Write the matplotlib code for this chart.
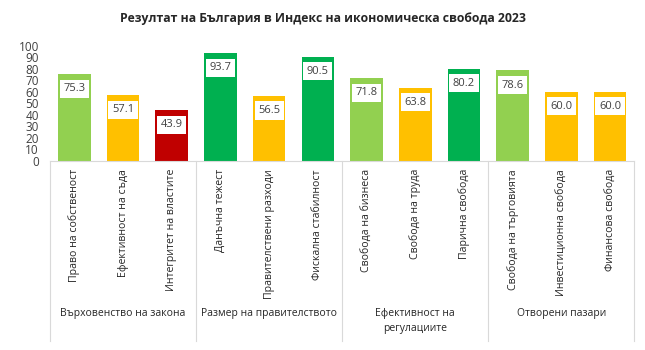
import matplotlib
matplotlib.use("Agg")
import matplotlib.pyplot as plt
from matplotlib.transforms import blended_transform_factory

plt.rcParams['font.family'] = ['Open Sans', 'DejaVu Sans']

title = "Резултат на България в Индекс на икономическа свобода 2023"
categories = ["Право на собственост", "Ефективност на съда", "Интегритет на властите",
              "Данъчна тежест", "Правителствени разходи", "Фискална стабилност",
              "Свобода на бизнеса", "Свобода на труда", "Парична свобода",
              "Свобода на търговията", "Инвестиционна свобода", "Финансова свобода"]
values = [75.3, 57.1, 43.9, 93.7, 56.5, 90.5, 71.8, 63.8, 80.2, 78.6, 60.0, 60.0]
colors = ["#92D050", "#FFC000", "#C00000", "#00B050", "#FFC000", "#00B050",
          "#92D050", "#FFC000", "#00B050", "#92D050", "#FFC000", "#FFC000"]
groups = ["Върховенство на закона", "Размер на правителството",
          "Ефективност на\nрегулациите", "Отворени пазари"]
yticks = [0, 10, 20, 30, 40, 50, 60, 70, 80, 90, 100]

fig = plt.figure(figsize=(6.45, 3.5), dpi=100)
ax = fig.add_axes([0.0775, 0.54, 0.906, 0.329])
x = list(range(len(values)))
ax.bar(x, values, width=0.67, color=colors, zorder=2)
ax.set_xlim(-0.5, len(values) - 0.5)
ax.set_ylim(0, 100)
ax.set_yticks(yticks)
ax.tick_params(axis='y', length=0, labelsize=8.5, pad=8, colors='#404040')
ax.set_xticks([])
for s in ['top', 'right', 'left']:
    ax.spines[s].set_visible(False)
ax.spines['bottom'].set_color('#D9D9D9')

for xi, v in zip(x, values):
    ax.annotate(f"{v:.1f}", (xi, v), xytext=(0, -6.5), textcoords='offset points',
                ha='center', va='top', fontsize=8, color='#404040',
                bbox=dict(boxstyle='square,pad=0.32', fc='white', ec='none'), zorder=3)

trans = blended_transform_factory(ax.transData, ax.transAxes)
for xi, c in zip(x, categories):
    ax.text(xi, -0.07, c, rotation=90, ha='center', va='top', fontsize=7.6,
            color='#262626', transform=trans, clip_on=False)

for b in [-0.5, 2.5, 5.5, 8.5, 11.5]:
    ax.plot([b, b], [0, -1.56], color='#D9D9D9', lw=0.8, transform=trans, clip_on=False)

for gi, g in enumerate(groups):
    cx = gi * 3 + 1
    ax.text(cx, -1.28, g, ha='center', va='top', fontsize=7.5, color='#262626',
            transform=trans, clip_on=False, linespacing=1.45)

fig.text(0.5, 0.948, title, ha='center', va='center', fontsize=8.8, fontweight='bold',
         color='#262626')

fig.savefig("out.png", dpi=100)
